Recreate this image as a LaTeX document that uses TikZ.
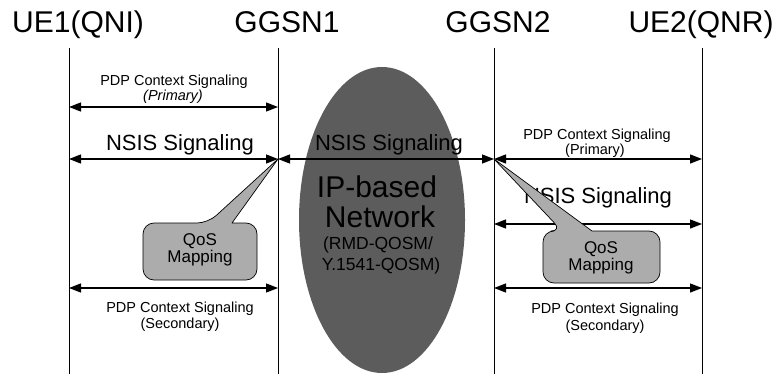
\documentclass[tikz,border=0pt]{standalone}
\usepackage{fontspec}
\setmainfont{Liberation Sans}
\usetikzlibrary{arrows.meta,shapes.geometric}
\definecolor{netgray}{RGB}{92,92,92}
\definecolor{qosgray}{RGB}{172,172,172}
\begin{document}
\begin{tikzpicture}[x=1pt,y=-1pt,
  lifeline/.style={line width=0.8pt},
  sig/.style={line width=1.3pt,
    {Triangle[length=12pt,width=9pt]}-{Triangle[length=12pt,width=9pt]}},
  lbl/.style={inner sep=0pt, anchor=base},
  title/.style={lbl, font=\fontsize{30}{32}\selectfont},
  pdp/.style={lbl, font=\fontsize{14.5}{17}\selectfont},
  nsis/.style={lbl, font=\fontsize{22}{24}\selectfont},
  qos/.style={lbl, font=\fontsize{17}{19}\selectfont},
  big/.style={lbl, font=\fontsize{30}{32}\selectfont},
  small/.style={lbl, font=\fontsize{17.5}{19}\selectfont},
  callout/.style={fill=qosgray, draw=black, line width=0.7pt, line join=round}]
\useasboundingbox (0,0) rectangle (778,374);

% entities
\node[title] (ue1) at (78,33) {UE1(QNI)};
\node[title] (gg1) at (287,33) {GGSN1};
\node[title] (gg2) at (498,33) {GGSN2};
\node[title] (ue2) at (701,33) {UE2(QNR)};

% IP network cloud
\node[ellipse, fill=netgray, minimum width=166pt, minimum height=306pt, inner sep=0pt]
  (ipnet) at (382,220) {};
\node[big] (ipb) at (377,197) {IP-based};
\node[big] (netw) at (380,227) {Network};
\node[small] (rmd) at (378,249) {(RMD-QOSM/};
\node[small] (y1541) at (381,270) {Y.1541-QOSM)};

% lifelines
\coordinate (ue1t) at (69,48);  \coordinate (ue1b) at (69,374);
\coordinate (gg1t) at (278,48); \coordinate (gg1b) at (278,374);
\coordinate (gg2t) at (494,48); \coordinate (gg2b) at (494,374);
\coordinate (ue2t) at (702,48); \coordinate (ue2b) at (702,374);
\foreach \n in {ue1,gg1,gg2,ue2} \draw[lifeline] (\n t) -- (\n b);

% message end points
\coordinate (a1l) at (69,107);  \coordinate (a1r) at (278,107);
\coordinate (a2l) at (69,159);  \coordinate (a2r) at (278,159);
\coordinate (a3l) at (278,159); \coordinate (a3r) at (494,159);
\coordinate (a4l) at (494,159); \coordinate (a4r) at (702,159);
\coordinate (a5l) at (494,224); \coordinate (a5r) at (702,224);
\coordinate (a6l) at (69,288);  \coordinate (a6r) at (278,288);
\coordinate (a7l) at (494,288); \coordinate (a7r) at (702,288);
\foreach \k in {1,...,7} \draw[sig] (a\k l) -- (a\k r);

% message labels
\node[pdp] (l1a) at (174,86) {PDP Context Signaling};
\node[pdp] (l1b) at (173,101) {\itshape (Primary)};
\node[nsis] (l2) at (180,150) {NSIS Signaling};
\node[nsis] (l3) at (389,151) {NSIS Signaling};
\node[pdp] (l4a) at (597,140) {PDP Context Signaling};
\node[pdp] (l4b) at (595,155) {(Primary)};
\node[nsis] (l5) at (598,203) {NSIS Signaling};
\node[pdp] (l6a) at (180,312) {PDP Context Signaling};
\node[pdp] (l6b) at (180,328) {(Secondary)};
\node[pdp] (l7a) at (605,313) {PDP Context Signaling};
\node[pdp] (l7b) at (605,330) {(Secondary)};

% QoS mapping callouts
\filldraw[callout] (208,223) [sharp corners] -- (a2r) -- (232,223)
  [rounded corners=11pt] -- (257,223) -- (257,280) -- (143,280) -- (143,223) -- cycle;
\node[qos] (qm1a) at (200,245) {QoS};
\node[qos] (qm1b) at (200,262) {Mapping};
\filldraw[callout] (562,231) [sharp corners] -- (a4l) -- (592,231)
  [rounded corners=11pt] -- (660,231) -- (660,283) -- (543,283) -- (543,231) -- cycle;
\node[qos] (qm2a) at (601,253) {QoS};
\node[qos] (qm2b) at (601,270) {Mapping};
\end{tikzpicture}
\end{document}
